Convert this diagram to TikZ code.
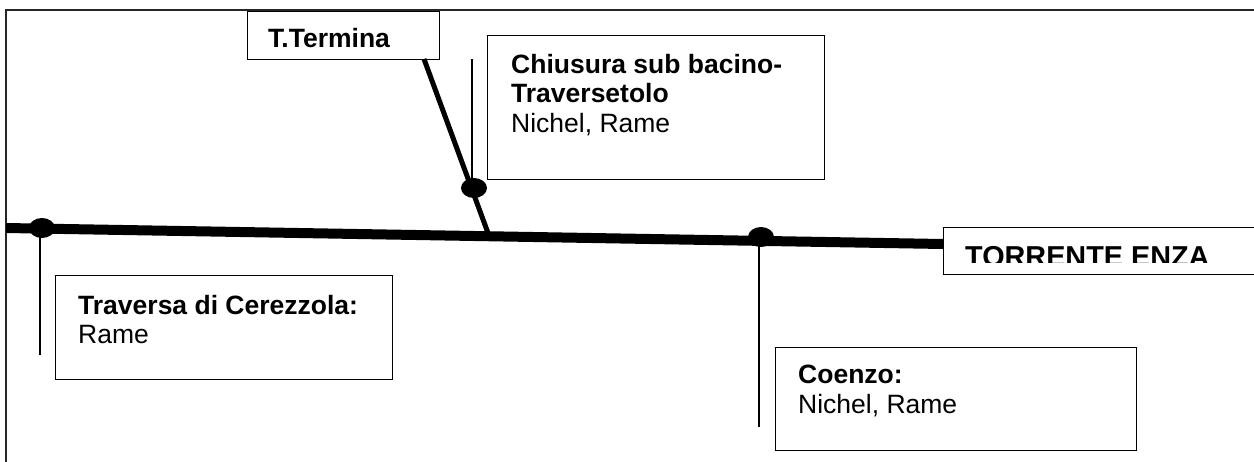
\documentclass[tikz,border=0pt]{standalone}
\usepackage{fontspec}
\setmainfont{Liberation Sans}
\usetikzlibrary{shapes.geometric}
\begin{document}
\begin{tikzpicture}[x=1pt,y=-1pt,
  boxrect/.style={draw=black, line width=1.3pt, rectangle, inner sep=0pt, anchor=north west},
  lbl/.style={inner sep=0pt, anchor=base west, font=\fontsize{26.5}{30}\selectfont},
  boldlbl/.style={inner sep=0pt, anchor=base west, font=\fontsize{26.5}{30}\selectfont\bfseries},
  dotmark/.style={ellipse, fill=black, minimum width=26pt, minimum height=20pt, inner sep=0pt},
  river/.style={line width=10pt},
  trib/.style={line width=5pt},
  thinline/.style={line width=1.3pt},
  frameline/.style={line width=2pt, draw=black!85}
]
\useasboundingbox (0,0) rectangle (1254,461);
\clip (0,0) rectangle (1254,461);

% outer frame (cut at right and bottom)
\draw[frameline] (6,470) -- (6,10) -- (1262,10);

% boxes
\node[boxrect, minimum width=192pt, minimum height=48pt] (termina) at (247,11) {};
\node[boxrect, minimum width=337pt, minimum height=144pt] (chiusura) at (487,35) {};
\node[boxrect, minimum width=337pt, minimum height=104pt] (traversa) at (55,275) {};
\node[boxrect, minimum width=361pt, minimum height=103pt] (coenzo) at (775,347) {};

% river
\coordinate (rs) at (6,228);
\coordinate (re) at (943,244);
\draw[river] (rs) -- (re);

% tributary T.Termina
\coordinate (tt) at (424,59);
\coordinate (tb) at (488,233);
\draw[trib] (tt) -- (tb);

% river name box
\node[boxrect, fill=white, minimum width=312pt, minimum height=47pt] (enza) at (943,227) {};
\begin{scope}
  \clip (943,227) rectangle (1256,262);
  \node[inner sep=0pt, anchor=base west, font=\fontsize{28.8}{32}\selectfont\bfseries] (enzatxt) at (965,266) {TORRENTE ENZA};
\end{scope}

% sampling points
\node[dotmark] (d1) at (42,228) {};
\node[dotmark] (d2) at (474,188) {};
\node[dotmark] (d3) at (761,237) {};

\coordinate (c1) at (40,355);
\coordinate (c2) at (472,59);
\coordinate (c3) at (759,427);
\draw[thinline] (40,236) -- (c1);
\draw[thinline] (c2) -- (472,180);
\draw[thinline] (759,245) -- (c3);

% texts
\node[boldlbl] (tterm) at (268,47) {T.Termina};
\node[boldlbl] (ch1) at (511,73) {Chiusura sub bacino-};
\node[boldlbl] (ch2) at (511,102) {Traversetolo};
\node[lbl] (ch3) at (511,132) {Nichel, Rame};
\node[boldlbl] (tr1) at (78,314) {Traversa di Cerezzola:};
\node[lbl] (tr2) at (78,343) {Rame};
\node[boldlbl] (co1) at (798,383) {Coenzo:};
\node[lbl] (co2) at (798,413) {Nichel, Rame};
\end{tikzpicture}
\end{document}
